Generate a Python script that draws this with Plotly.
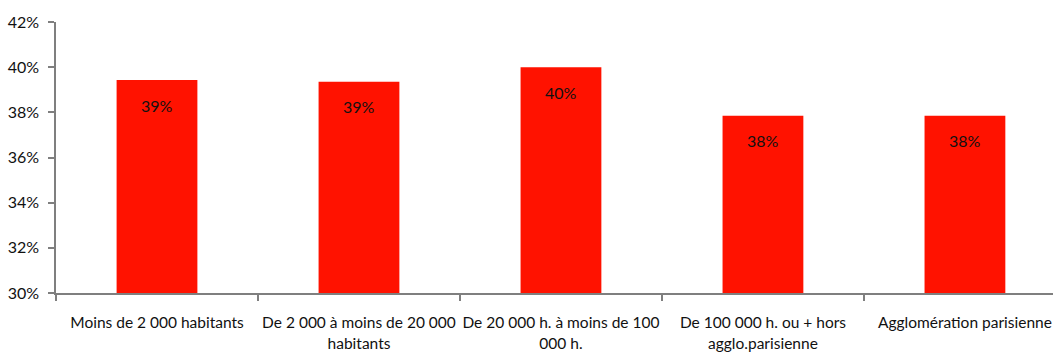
import plotly.graph_objects as go

categories = [
    "Moins de 2 000 habitants",
    "De 2 000 à moins de 20 000<br>habitants",
    "De 20 000 h. à moins de 100<br>000 h.",
    "De 100 000 h. ou + hors<br>agglo.parisienne",
    "Agglomération parisienne",
]
values = [39.43, 39.35, 40.0, 37.85, 37.85]
labels = [f"{round(v)}%" for v in values]
y_ticks = [30, 32, 34, 36, 38, 40, 42]

FONT = "Lato, 'Open Sans', sans-serif"
RED = "#FF1200"
TXT = "#111111"

fig = go.Figure()
fig.add_trace(go.Bar(
    x=categories,
    y=values,
    width=0.4,
    marker=dict(color=RED, line=dict(width=0)),
    hoverinfo="skip",
))

for c, v, t in zip(categories, values, labels):
    fig.add_annotation(
        x=c, y=v, text=t, showarrow=False, yshift=-25,
        font=dict(family=FONT, size=16, color=TXT),
    )

fig.update_layout(
    width=1053,
    height=353,
    margin=dict(l=56, r=0, t=22, b=60, autoexpand=False),
    paper_bgcolor="white",
    plot_bgcolor="white",
    showlegend=False,
    bargap=0.6,
    font=dict(family=FONT, size=16, color=TXT),
)
fig.update_xaxes(
    range=[-0.5, 4.436],
    showline=True, linecolor="#7f7f7f", linewidth=1.5,
    ticks="outside", tickson="boundaries", ticklen=6, tickcolor="#7f7f7f", tickwidth=1.5,
    showgrid=False, automargin=False, ticklabelstandoff=15, tickangle=0,
    tickfont=dict(family=FONT, size=15.5, color=TXT),
)
fig.update_yaxes(
    range=[30, 42],
    tickvals=y_ticks,
    ticktext=[f"{t}%" for t in y_ticks],
    showline=True, linecolor="#7f7f7f", linewidth=1.5,
    ticks="outside", ticklen=6, tickcolor="#7f7f7f", tickwidth=1.5,
    showgrid=False, zeroline=False, automargin=False, ticklabelstandoff=6,
    tickfont=dict(family=FONT, size=16, color=TXT),
)

fig.write_html("out.html")
